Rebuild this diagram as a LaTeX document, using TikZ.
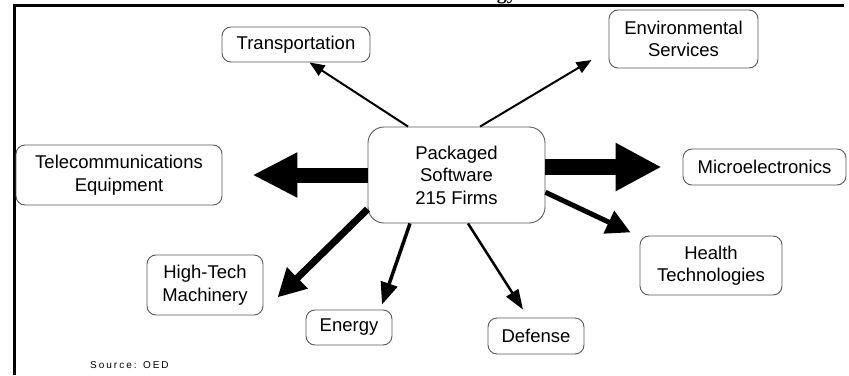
\documentclass[tikz,border=0pt]{standalone}
\usepackage{fontspec}
\setmainfont{Liberation Sans}
\newfontfamily\titlefont{Liberation Serif}
\usetikzlibrary{arrows.meta}
\begin{document}
\begin{tikzpicture}[x=1pt,y=-1pt,
  box/.style={draw=black!65, line width=0.9pt, rounded corners=9pt, align=center,
    inner sep=0pt, font=\fontsize{18.5}{22.5}\selectfont},
  hub/.style={box, rounded corners=16pt},
  arr/.style args={#1/#2/#3}{draw=black, line width=#1pt,
    -{Triangle[length=#2pt,width=#3pt]}},
]
\useasboundingbox (0,0) rectangle (849,375);

% frame and (cut-off) heading
\draw[line width=2.6pt] (14.5,375) -- (14.5,5.5) -- (844,5.5);
\node[anchor=base east, inner sep=0pt, font=\titlefont\bfseries\fontsize{20}{24}\selectfont]
  (title) at (517,-1) {Technology};

% centre and surrounding sectors
\node[hub, minimum width=177pt, minimum height=96pt] (core) at (456.5,175)
  {Packaged\\Software\\215 Firms};
\node[box, minimum width=148pt, minimum height=35pt] (trans) at (296,44.5) {Transportation};
\node[box, minimum width=149pt, minimum height=58pt] (env) at (683.5,39) {Environmental\\Services};
\node[box, minimum width=206pt, minimum height=60pt] (tele) at (119,175) {Telecommunications\\Equipment};
\node[box, minimum width=163pt, minimum height=36pt] (micro) at (764.5,167) {Microelectronics};
\node[box, minimum width=142pt, minimum height=59pt] (health) at (711,265.5) {Health\\Technologies};
\node[box, minimum width=116pt, minimum height=60pt] (htm) at (205,285) {High-Tech\\Machinery};
\node[box, minimum width=86pt, minimum height=35pt] (energy) at (349,327.5) {Energy};
\node[box, minimum width=96pt, minimum height=36pt] (defense) at (536,336) {Defense};

% connectors
\draw[arr=2/15/12] (core.135) -- (trans.-53);
\draw[arr=2/15/12] (core.64) -- ([shift={(-17pt,-21pt)}]env.west);
\draw[arr=15/45/42, shorten >=30pt] (core.west) -- (tele.east);
\draw[arr=16/46/45, shorten >=21pt] ([yshift=8pt]core.east) -- (micro.west);
\draw[arr=5/24/24, shorten >=10pt] (core.-11.5) -- (health.158);
\draw[arr=7/28/28] (core.201.6) -- ([shift={(14pt,18pt)}]htm.south east);
\draw[arr=3.5/22/17] ([xshift=-46.5pt]core.south) -- ([shift={(33pt,5pt)}]energy.north);
\draw[arr=2.5/20/14] ([xshift=11.5pt]core.south) -- ([shift={(-13pt,8pt)}]defense.north);

% source line
\node[anchor=west, inner sep=0pt, font=\fontsize{10}{12}\selectfont\addfontfeatures{LetterSpace=20}]
  (src) at (90,365) {Source: OED};
\end{tikzpicture}
\end{document}
